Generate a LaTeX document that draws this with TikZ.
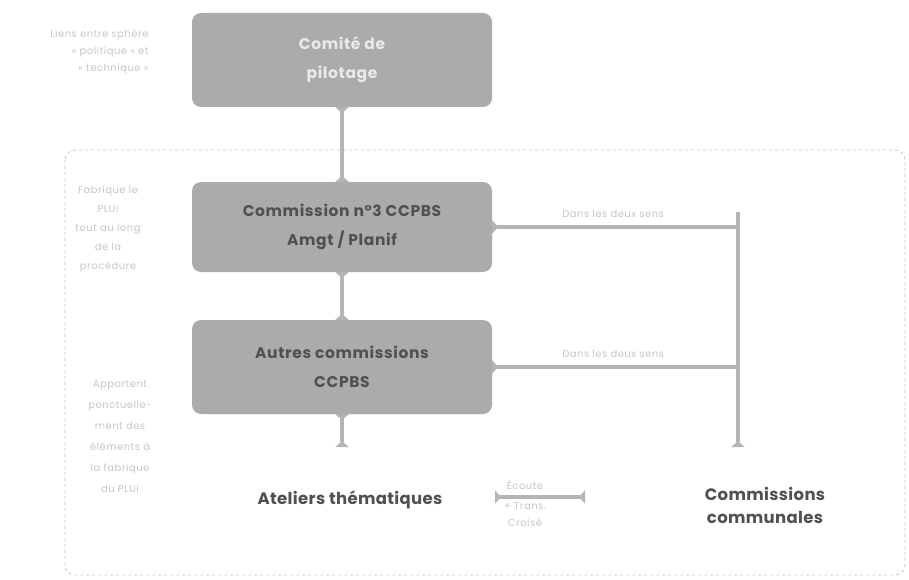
\documentclass[tikz,border=0pt]{standalone}
\usepackage{fontspec}
\setmainfont{Poppins}
\usetikzlibrary{arrows.meta,positioning}
\definecolor{boxgray}{HTML}{ABABAB}
\definecolor{linegray}{HTML}{B4B4B4}
\definecolor{textdark}{HTML}{505050}
\definecolor{notegray}{HTML}{C6C6C6}
\begin{document}
\begin{tikzpicture}[x=1pt,y=-1pt,
  boite/.style={fill=boxgray,rounded corners=9pt,minimum width=300pt,minimum height=94pt,align=center,
    font=\bfseries\fontsize{15.5}{29}\selectfont\addfontfeature{LetterSpace=4},text=textdark},
  lien/.style={draw=linegray,line width=3.5pt},
  evase/.tip={Triangle[reversed,width=13pt,length=6pt]},
  note/.style={text=notegray,font=\fontsize{10}{17}\selectfont\addfontfeature{LetterSpace=5},align=center},
  titre/.style={text=textdark,font=\bfseries\fontsize{16.5}{23}\selectfont\addfontfeature{LetterSpace=2},align=center}]
\useasboundingbox (0,0) rectangle (909,580);
\draw[notegray,dashed,line width=0.8pt,rounded corners=10pt] (65,150) rectangle (905,575);

\node[boite,text=white!75!boxgray] (copil) at (342,60) {Comité de\\pilotage};
\node[boite,minimum height=90pt] (cc3) at (342,227) {Commission n°3 CCPBS\\Amgt / Planif};
\node[boite] (autres) at (342,367) {Autres commissions\\CCPBS};

\node[note,align=right,anchor=east] (liens) at (152,52) {Liens entre sphère\\« politique » et\\« technique »};
\node[note,font=\fontsize{10}{19}\selectfont\addfontfeature{LetterSpace=5}] (fabrique) at (108,229) {Fabrique le\\PLUi\\tout au long\\de la\\procédure};
\node[note,font=\fontsize{10}{21}\selectfont\addfontfeature{LetterSpace=5}] (apport) at (120,437) {Apportent\\ponctuelle-\\ment des\\éléments à\\la fabrique\\du PLUi};

\node[titre] (ateliers) at (350,500) {Ateliers thématiques};
\node[titre] (communales) at (765,505) {Commissions\\communales};

\coordinate (pa) at (342,447);
\coordinate (dtop) at (738,212);
\coordinate (dbas) at (738,447);
\coordinate (b1) at (495,497);
\coordinate (b2) at (585,497);

\draw[lien,evase-evase] (copil) -- (cc3);
\draw[lien,evase-evase] (cc3) -- (autres);
\draw[lien,evase-evase] (autres) -- (pa);
\draw[lien,-evase] (dtop) -- (dbas);
\draw[lien,evase-] (cc3.east) -- (cc3.east -| dtop) node[note,midway,above=4pt,xshift=-2pt] (sens1) {Dans les deux sens};
\draw[lien,evase-] (autres.east) -- (autres.east -| dtop) node[note,midway,above=4pt,xshift=-2pt] (sens2) {Dans les deux sens};
\draw[lien,evase-evase] (b1) -- (b2);
\node[note,above=4pt of b1,xshift=30pt] (ecoute) {Écoute};
\node[note,below=2pt of b1,xshift=30pt] (croise) {+ Trans.\\Croisé};
\end{tikzpicture}
\end{document}
